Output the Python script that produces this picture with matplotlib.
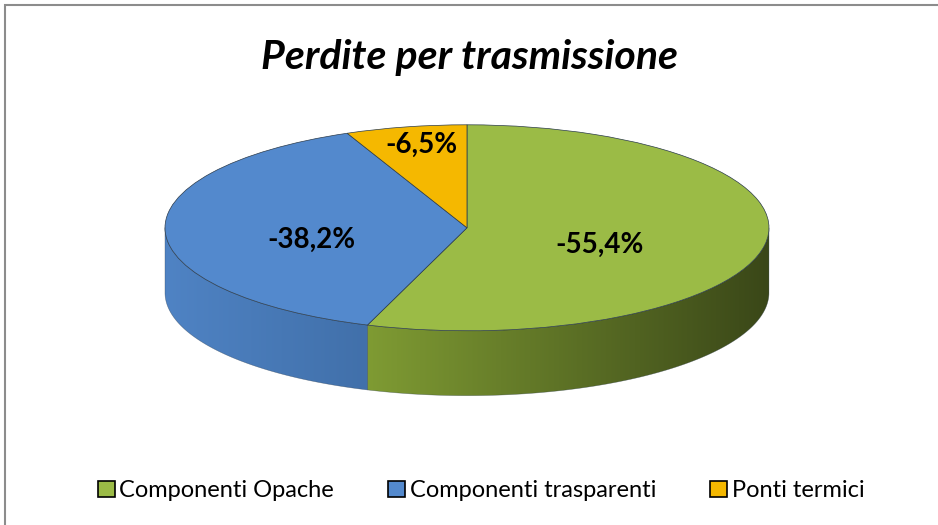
import numpy as np
import matplotlib.pyplot as plt
from matplotlib.colors import LinearSegmentedColormap
from matplotlib.path import Path
from matplotlib.patches import Rectangle, Patch

### DATA ###
categories = ['Componenti Opache', 'Componenti trasparenti', 'Ponti termici']
percent = [-55.4, -38.2, -6.5]
title = 'Perdite per trasmissione'

### STYLE ###
top_colors = ['#9bbb46', '#5389cd', '#f5b800']
side_colors = [('#7f9b33', '#3a4718'), ('#4f83c4', '#4170aa'), ('#d9a300', '#a57c00')]
# (distance from centre, angle shift from the wedge middle) for each label
label_pos = [(0.47, -10.8), (0.53, 11.0), (0.82, -1.0)]
depth = 0.63

plt.rcParams['font.family'] = ['Lato', 'DejaVu Sans']

fig = plt.figure(figsize=(9.38, 5.25), dpi=100)
ax = fig.add_axes([0.1598, 0.2267, 0.6761, 0.5552])

sizes = [abs(p) for p in percent]
wedges, _ = ax.pie(sizes, colors=top_colors, startangle=90, counterclock=False,
                   wedgeprops=dict(edgecolor='#2a3a4a', linewidth=0.5), radius=1)
for w in wedges:
    w.set_zorder(3)

# side walls of the 3D disc, built from the wedge angles
for w, (c1, c2) in zip(wedges, side_colors):
    t1, t2 = w.theta1 % 360, w.theta2 % 360
    if t2 <= t1:
        t2 += 360
    spans = []
    for lo, hi in [(180, 360), (540, 720)]:
        a, b = max(t1, lo), min(t2, hi)
        if b > a:
            spans.append((a, b))
    for a, b in spans:
        th = np.radians(np.linspace(a, b, 200))
        xs = np.cos(th)
        ys = np.sin(th)
        verts = np.concatenate([np.column_stack([xs, ys]),
                                np.column_stack([xs[::-1], ys[::-1] - depth])])
        path = Path(np.vstack([verts, verts[:1]]), closed=True)
        cmap = LinearSegmentedColormap.from_list('side', [c1, c2])
        im = ax.imshow(np.linspace(0, 1, 256).reshape(1, -1), cmap=cmap, aspect='auto',
                       extent=[xs.min(), xs.max(), ys.min() - depth, ys.max()], zorder=1)
        im.set_clip_path(path, transform=ax.transData)
        ax.plot(verts[:, 0].tolist() + [verts[0, 0]], verts[:, 1].tolist() + [verts[0, 1]],
                color='#2a3a4a', lw=0.4, zorder=2, alpha=0.5)

# percentage labels
for w, p, (dist, shift) in zip(wedges, percent, label_pos):
    mid = np.radians((w.theta1 + w.theta2) / 2 + shift)
    ax.text(dist * np.cos(mid), dist * np.sin(mid),
            ('%.1f%%' % p).replace('.', ','), ha='center', va='center',
            fontsize=20, fontweight='bold', zorder=5)

ax.set_aspect('auto')
ax.set_xlim(-1.05, 1.05)
ax.set_ylim(-depth - 1.1, 1.1)
ax.axis('off')

fig.text(0.5, 0.89, title, ha='center', va='center', fontsize=29.5,
         fontweight='bold', fontstyle='italic')

handles = [Patch(facecolor=c, edgecolor='black', linewidth=1.2) for c in top_colors]
fig.legend(handles, categories, loc='center', bbox_to_anchor=(0.513, 0.065), ncol=3,
           frameon=False, fontsize=17, handlelength=0.7, handleheight=0.7,
           handletextpad=0.2, columnspacing=2.3)

fig.patches.append(Rectangle((5 / 938, -0.1), 1.2, 1.1 - 5 / 525, transform=fig.transFigure,
                             fill=False, edgecolor='#8c8c8c', linewidth=1.5))

plt.savefig('out.png', dpi=100)
